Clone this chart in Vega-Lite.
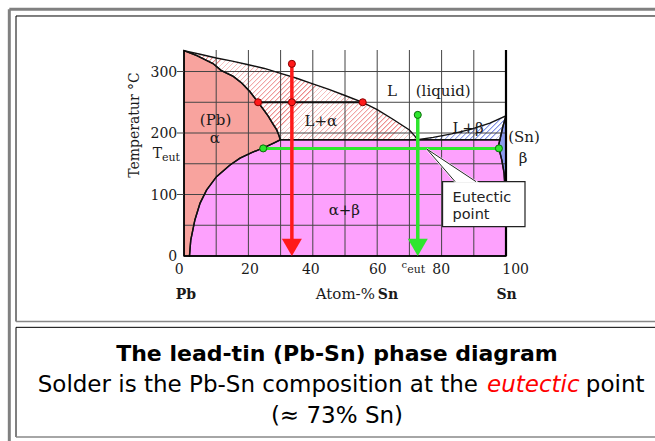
{
"$schema":"https://vega.github.io/schema/vega-lite/v6.json",
"width":322,"height":206,
"autosize":{"type":"none"},
"padding":{"left":184,"top":50,"right":149,"bottom":185},
"background":"#ffffff",
"config":{"view":{"stroke":null},"axis":{"disable":true},"legend":{"disable":true}},
"data":{"values":[{"one":1}]},
"datasets":{
"poly":[
{"r":"a","i":0,"x":0,"y":0},{"r":"a","i":1,"x":0,"y":334},{"r":"a","i":2,"x":4,"y":326},{"r":"a","i":3,"x":9,"y":313},{"r":"a","i":4,"x":11.5,"y":302},{"r":"a","i":5,"x":15.3,"y":292},{"r":"a","i":6,"x":18,"y":281},{"r":"a","i":7,"x":20.5,"y":267},{"r":"a","i":8,"x":23,"y":250},{"r":"a","i":9,"x":24.7,"y":238},{"r":"a","i":10,"x":26.2,"y":227},{"r":"a","i":11,"x":27.6,"y":215},{"r":"a","i":12,"x":28.8,"y":205},{"r":"a","i":13,"x":29.5,"y":196},{"r":"a","i":14,"x":29.9,"y":189},{"r":"a","i":15,"x":28,"y":184},{"r":"a","i":16,"x":26,"y":179},{"r":"a","i":17,"x":24.6,"y":176},{"r":"a","i":18,"x":21,"y":168},{"r":"a","i":19,"x":17.4,"y":159},{"r":"a","i":20,"x":14.3,"y":148},{"r":"a","i":21,"x":10.1,"y":129},{"r":"a","i":22,"x":7,"y":107},{"r":"a","i":23,"x":5,"y":86},{"r":"a","i":24,"x":3.4,"y":59},{"r":"a","i":25,"x":2.1,"y":26},{"r":"a","i":26,"x":1.7,"y":0},
{"r":"ab","i":0,"x":1.7,"y":0},{"r":"ab","i":1,"x":2.1,"y":26},{"r":"ab","i":2,"x":3.4,"y":59},{"r":"ab","i":3,"x":5,"y":86},{"r":"ab","i":4,"x":7,"y":107},{"r":"ab","i":5,"x":10.1,"y":129},{"r":"ab","i":6,"x":14.3,"y":148},{"r":"ab","i":7,"x":17.4,"y":159},{"r":"ab","i":8,"x":21,"y":168},{"r":"ab","i":9,"x":24.6,"y":176},{"r":"ab","i":10,"x":26,"y":179},{"r":"ab","i":11,"x":28,"y":184},{"r":"ab","i":12,"x":29.9,"y":189},{"r":"ab","i":13,"x":98.1,"y":189},{"r":"ab","i":14,"x":97.7,"y":180},{"r":"ab","i":15,"x":97.8,"y":175},{"r":"ab","i":16,"x":98.7,"y":156},{"r":"ab","i":17,"x":99.4,"y":135},{"r":"ab","i":18,"x":99.8,"y":102},{"r":"ab","i":19,"x":100,"y":60},{"r":"ab","i":20,"x":100,"y":0},
{"r":"La","i":0,"x":0,"y":334},{"r":"La","i":1,"x":5,"y":328},{"r":"La","i":2,"x":10,"y":322},{"r":"La","i":3,"x":15,"y":317},{"r":"La","i":4,"x":20,"y":311},{"r":"La","i":5,"x":25,"y":305},{"r":"La","i":6,"x":30,"y":297},{"r":"La","i":7,"x":35,"y":289},{"r":"La","i":8,"x":40,"y":280},{"r":"La","i":9,"x":45,"y":271},{"r":"La","i":10,"x":50,"y":261},{"r":"La","i":11,"x":55.5,"y":250},{"r":"La","i":12,"x":60,"y":238},{"r":"La","i":13,"x":65,"y":222},{"r":"La","i":14,"x":70,"y":205},{"r":"La","i":15,"x":71.7,"y":195},{"r":"La","i":16,"x":72.5,"y":189},{"r":"La","i":17,"x":29.9,"y":189},{"r":"La","i":18,"x":29.5,"y":196},{"r":"La","i":19,"x":28.8,"y":205},{"r":"La","i":20,"x":27.6,"y":215},{"r":"La","i":21,"x":26.2,"y":227},{"r":"La","i":22,"x":24.7,"y":238},{"r":"La","i":23,"x":23,"y":250},{"r":"La","i":24,"x":20.5,"y":267},{"r":"La","i":25,"x":18,"y":281},{"r":"La","i":26,"x":15.3,"y":292},{"r":"La","i":27,"x":11.5,"y":302},{"r":"La","i":28,"x":9,"y":313},{"r":"La","i":29,"x":4,"y":326},
{"r":"Lb","i":0,"x":72.5,"y":189},{"r":"Lb","i":1,"x":77.4,"y":193},{"r":"Lb","i":2,"x":83.1,"y":198.5},{"r":"Lb","i":3,"x":89,"y":206},{"r":"Lb","i":4,"x":95,"y":216},{"r":"Lb","i":5,"x":100,"y":228},{"r":"Lb","i":6,"x":99,"y":210},{"r":"Lb","i":7,"x":98.1,"y":189},
{"r":"b","i":0,"x":100,"y":228},{"r":"b","i":1,"x":99,"y":210},{"r":"b","i":2,"x":98.1,"y":189},{"r":"b","i":3,"x":97.7,"y":180},{"r":"b","i":4,"x":97.8,"y":175},{"r":"b","i":5,"x":98.7,"y":156},{"r":"b","i":6,"x":99.4,"y":135},{"r":"b","i":7,"x":99.8,"y":102},{"r":"b","i":8,"x":100,"y":60}
],
"vg":[{"gx":10},{"gx":20},{"gx":30},{"gx":40},{"gx":50},{"gx":60},{"gx":70},{"gx":80},{"gx":90}],
"hg":[{"gy":50},{"gy":100},{"gy":150},{"gy":200},{"gy":250},{"gy":300}],
"yl":[{"v":0,"t":"0"},{"v":100,"t":"100"},{"v":200,"t":"200"},{"v":300,"t":"300"}],
"xl":[{"t":"0","x":-1.5},{"t":"20","x":20.5},{"t":"40","x":39.4},{"t":"60","x":60.2},{"t":"80","x":79.9},{"t":"100","x":103}],
"dots":[{"x":33.5,"y":312.5,"k":"red"},{"x":23,"y":250,"k":"red"},{"x":33.5,"y":250,"k":"red"},{"x":55.5,"y":250,"k":"red"},{"x":72.6,"y":229.5,"k":"green"},{"x":24.6,"y":175,"k":"green"},{"x":97.8,"y":175,"k":"green"}],
"tips":[{"x":33.5,"y":14,"k":"red"},{"x":72.6,"y":14,"k":"green"}],
"wedge":[{"i":0,"x":84.2,"y":120.9},{"i":1,"x":75.4,"y":174},{"i":2,"x":90.7,"y":120.9}],
"rl":[{"t":"L","x":64.6,"y":260.7},{"t":"(liquid)","x":80.5,"y":260.7},{"t":"L+α","x":42.5,"y":211},{"t":"(Pb)","x":9.8,"y":213},{"t":"α","x":9.6,"y":183},{"t":"L+β","x":88.2,"y":200},{"t":"(Sn)","x":105.6,"y":185},{"t":"β","x":105.3,"y":151},{"t":"α+β","x":49.8,"y":67}]
},
"layer":[
{"mark":{"type":"rule","color":"#808080","strokeWidth":3},"encoding":{"x":{"datum":-54.25,"type":"quantitative","scale":{"domain":[0,100],"nice":false,"zero":false}},"x2":{"datum":160},"y":{"datum":401.2,"type":"quantitative","scale":{"domain":[0,335],"nice":false,"zero":false}}}},
{"mark":{"type":"rule","color":"#808080","strokeWidth":3},"encoding":{"x":{"datum":-54.25,"type":"quantitative"},"y":{"datum":401.2,"type":"quantitative"},"y2":{"datum":-331.8}}},
{"mark":{"type":"rule","color":"#000000","strokeWidth":1},"encoding":{"x":{"datum":-52.17,"type":"quantitative"},"x2":{"datum":160},"y":{"datum":390.3,"type":"quantitative"}}},
{"mark":{"type":"rule","color":"#000000","strokeWidth":1},"encoding":{"x":{"datum":-52.17,"type":"quantitative"},"y":{"datum":390.3,"type":"quantitative"},"y2":{"datum":-106.5}}},
{"mark":{"type":"rule","color":"#888888","strokeWidth":1.5},"encoding":{"x":{"datum":-52.17,"type":"quantitative"},"x2":{"datum":160},"y":{"datum":-106.5,"type":"quantitative"}}},
{"mark":{"type":"rule","color":"#000000","strokeWidth":1},"encoding":{"x":{"datum":-52.17,"type":"quantitative"},"x2":{"datum":160},"y":{"datum":-116,"type":"quantitative"}}},
{"mark":{"type":"rule","color":"#000000","strokeWidth":1},"encoding":{"x":{"datum":-52.17,"type":"quantitative"},"y":{"datum":-116,"type":"quantitative"},"y2":{"datum":-294.4}}},
{"mark":{"type":"rule","color":"#888888","strokeWidth":1.5},"encoding":{"x":{"datum":-52.17,"type":"quantitative"},"x2":{"datum":160},"y":{"datum":-294.4,"type":"quantitative"}}},

{"data":{"name":"poly"},"transform":[{"filter":"datum.r=='a'"}],"mark":{"type":"line","interpolate":"linear-closed","fill":"#f8a39e","strokeWidth":0},"encoding":{"x":{"field":"x","type":"quantitative"},"y":{"field":"y","type":"quantitative"},"order":{"field":"i","type":"quantitative"}}},
{"data":{"name":"poly"},"transform":[{"filter":"datum.r=='ab'"}],"mark":{"type":"line","interpolate":"linear-closed","fill":"#fda1fd","strokeWidth":0},"encoding":{"x":{"field":"x","type":"quantitative"},"y":{"field":"y","type":"quantitative"},"order":{"field":"i","type":"quantitative"}}},
{"data":{"name":"poly"},"transform":[{"filter":"datum.r=='La'"}],"mark":{"type":"line","interpolate":"linear-closed","strokeWidth":0,"fill":{"gradient":"linear","x1":0,"y1":0,"x2":1.206,"y2":0.461,"stops":[
{"offset":0,"color":"#fff"},{"offset":0,"color":"#ec8585"},{"offset":0.006,"color":"#fff"},
{"offset":0.015625,"color":"#fff"},{"offset":0.015625,"color":"#ec8585"},{"offset":0.021625,"color":"#fff"},
{"offset":0.03125,"color":"#fff"},{"offset":0.03125,"color":"#ec8585"},{"offset":0.03725,"color":"#fff"},
{"offset":0.046875,"color":"#fff"},{"offset":0.046875,"color":"#ec8585"},{"offset":0.052875,"color":"#fff"},
{"offset":0.0625,"color":"#fff"},{"offset":0.0625,"color":"#ec8585"},{"offset":0.0685,"color":"#fff"},
{"offset":0.078125,"color":"#fff"},{"offset":0.078125,"color":"#ec8585"},{"offset":0.084125,"color":"#fff"},
{"offset":0.09375,"color":"#fff"},{"offset":0.09375,"color":"#ec8585"},{"offset":0.09975,"color":"#fff"},
{"offset":0.109375,"color":"#fff"},{"offset":0.109375,"color":"#ec8585"},{"offset":0.115375,"color":"#fff"},
{"offset":0.125,"color":"#fff"},{"offset":0.125,"color":"#ec8585"},{"offset":0.131,"color":"#fff"},
{"offset":0.140625,"color":"#fff"},{"offset":0.140625,"color":"#ec8585"},{"offset":0.146625,"color":"#fff"},
{"offset":0.15625,"color":"#fff"},{"offset":0.15625,"color":"#ec8585"},{"offset":0.16225,"color":"#fff"},
{"offset":0.171875,"color":"#fff"},{"offset":0.171875,"color":"#ec8585"},{"offset":0.177875,"color":"#fff"},
{"offset":0.1875,"color":"#fff"},{"offset":0.1875,"color":"#ec8585"},{"offset":0.1935,"color":"#fff"},
{"offset":0.203125,"color":"#fff"},{"offset":0.203125,"color":"#ec8585"},{"offset":0.209125,"color":"#fff"},
{"offset":0.21875,"color":"#fff"},{"offset":0.21875,"color":"#ec8585"},{"offset":0.22475,"color":"#fff"},
{"offset":0.234375,"color":"#fff"},{"offset":0.234375,"color":"#ec8585"},{"offset":0.240375,"color":"#fff"},
{"offset":0.25,"color":"#fff"},{"offset":0.25,"color":"#ec8585"},{"offset":0.256,"color":"#fff"},
{"offset":0.265625,"color":"#fff"},{"offset":0.265625,"color":"#ec8585"},{"offset":0.271625,"color":"#fff"},
{"offset":0.28125,"color":"#fff"},{"offset":0.28125,"color":"#ec8585"},{"offset":0.28725,"color":"#fff"},
{"offset":0.296875,"color":"#fff"},{"offset":0.296875,"color":"#ec8585"},{"offset":0.302875,"color":"#fff"},
{"offset":0.3125,"color":"#fff"},{"offset":0.3125,"color":"#ec8585"},{"offset":0.3185,"color":"#fff"},
{"offset":0.328125,"color":"#fff"},{"offset":0.328125,"color":"#ec8585"},{"offset":0.334125,"color":"#fff"},
{"offset":0.34375,"color":"#fff"},{"offset":0.34375,"color":"#ec8585"},{"offset":0.34975,"color":"#fff"},
{"offset":0.359375,"color":"#fff"},{"offset":0.359375,"color":"#ec8585"},{"offset":0.365375,"color":"#fff"},
{"offset":0.375,"color":"#fff"},{"offset":0.375,"color":"#ec8585"},{"offset":0.381,"color":"#fff"},
{"offset":0.390625,"color":"#fff"},{"offset":0.390625,"color":"#ec8585"},{"offset":0.396625,"color":"#fff"},
{"offset":0.40625,"color":"#fff"},{"offset":0.40625,"color":"#ec8585"},{"offset":0.41225,"color":"#fff"},
{"offset":0.421875,"color":"#fff"},{"offset":0.421875,"color":"#ec8585"},{"offset":0.427875,"color":"#fff"},
{"offset":0.4375,"color":"#fff"},{"offset":0.4375,"color":"#ec8585"},{"offset":0.4435,"color":"#fff"},
{"offset":0.453125,"color":"#fff"},{"offset":0.453125,"color":"#ec8585"},{"offset":0.459125,"color":"#fff"},
{"offset":0.46875,"color":"#fff"},{"offset":0.46875,"color":"#ec8585"},{"offset":0.47475,"color":"#fff"},
{"offset":0.484375,"color":"#fff"},{"offset":0.484375,"color":"#ec8585"},{"offset":0.490375,"color":"#fff"},
{"offset":0.5,"color":"#fff"},{"offset":0.5,"color":"#ec8585"},{"offset":0.506,"color":"#fff"},
{"offset":0.515625,"color":"#fff"},{"offset":0.515625,"color":"#ec8585"},{"offset":0.521625,"color":"#fff"},
{"offset":0.53125,"color":"#fff"},{"offset":0.53125,"color":"#ec8585"},{"offset":0.53725,"color":"#fff"},
{"offset":0.546875,"color":"#fff"},{"offset":0.546875,"color":"#ec8585"},{"offset":0.552875,"color":"#fff"},
{"offset":0.5625,"color":"#fff"},{"offset":0.5625,"color":"#ec8585"},{"offset":0.5685,"color":"#fff"},
{"offset":0.578125,"color":"#fff"},{"offset":0.578125,"color":"#ec8585"},{"offset":0.584125,"color":"#fff"},
{"offset":0.59375,"color":"#fff"},{"offset":0.59375,"color":"#ec8585"},{"offset":0.59975,"color":"#fff"},
{"offset":0.609375,"color":"#fff"},{"offset":0.609375,"color":"#ec8585"},{"offset":0.615375,"color":"#fff"},
{"offset":0.625,"color":"#fff"},{"offset":0.625,"color":"#ec8585"},{"offset":0.631,"color":"#fff"},
{"offset":0.640625,"color":"#fff"},{"offset":0.640625,"color":"#ec8585"},{"offset":0.646625,"color":"#fff"},
{"offset":0.65625,"color":"#fff"},{"offset":0.65625,"color":"#ec8585"},{"offset":0.66225,"color":"#fff"},
{"offset":0.671875,"color":"#fff"},{"offset":0.671875,"color":"#ec8585"},{"offset":0.677875,"color":"#fff"},
{"offset":0.6875,"color":"#fff"},{"offset":0.6875,"color":"#ec8585"},{"offset":0.6935,"color":"#fff"},
{"offset":0.703125,"color":"#fff"},{"offset":0.703125,"color":"#ec8585"},{"offset":0.709125,"color":"#fff"},
{"offset":0.71875,"color":"#fff"},{"offset":0.71875,"color":"#ec8585"},{"offset":0.72475,"color":"#fff"},
{"offset":0.734375,"color":"#fff"},{"offset":0.734375,"color":"#ec8585"},{"offset":0.740375,"color":"#fff"},
{"offset":0.75,"color":"#fff"},{"offset":0.75,"color":"#ec8585"},{"offset":0.756,"color":"#fff"},
{"offset":0.765625,"color":"#fff"},{"offset":0.765625,"color":"#ec8585"},{"offset":0.771625,"color":"#fff"},
{"offset":0.78125,"color":"#fff"},{"offset":0.78125,"color":"#ec8585"},{"offset":0.78725,"color":"#fff"},
{"offset":0.796875,"color":"#fff"},{"offset":0.796875,"color":"#ec8585"},{"offset":0.802875,"color":"#fff"},
{"offset":0.8125,"color":"#fff"},{"offset":0.8125,"color":"#ec8585"},{"offset":0.8185,"color":"#fff"},
{"offset":0.828125,"color":"#fff"},{"offset":0.828125,"color":"#ec8585"},{"offset":0.834125,"color":"#fff"},
{"offset":0.84375,"color":"#fff"},{"offset":0.84375,"color":"#ec8585"},{"offset":0.84975,"color":"#fff"},
{"offset":0.859375,"color":"#fff"},{"offset":0.859375,"color":"#ec8585"},{"offset":0.865375,"color":"#fff"},
{"offset":0.875,"color":"#fff"},{"offset":0.875,"color":"#ec8585"},{"offset":0.881,"color":"#fff"},
{"offset":0.890625,"color":"#fff"},{"offset":0.890625,"color":"#ec8585"},{"offset":0.896625,"color":"#fff"},
{"offset":0.90625,"color":"#fff"},{"offset":0.90625,"color":"#ec8585"},{"offset":0.91225,"color":"#fff"},
{"offset":0.921875,"color":"#fff"},{"offset":0.921875,"color":"#ec8585"},{"offset":0.927875,"color":"#fff"},
{"offset":0.9375,"color":"#fff"},{"offset":0.9375,"color":"#ec8585"},{"offset":0.9435,"color":"#fff"},
{"offset":0.953125,"color":"#fff"},{"offset":0.953125,"color":"#ec8585"},{"offset":0.959125,"color":"#fff"},
{"offset":0.96875,"color":"#fff"},{"offset":0.96875,"color":"#ec8585"},{"offset":0.97475,"color":"#fff"},
{"offset":0.984375,"color":"#fff"},{"offset":0.984375,"color":"#ec8585"},{"offset":0.990375,"color":"#fff"},
{"offset":1,"color":"#fff"}
]}},"encoding":{"x":{"field":"x","type":"quantitative"},"y":{"field":"y","type":"quantitative"},"order":{"field":"i","type":"quantitative"}}},
{"data":{"name":"poly"},"transform":[{"filter":"datum.r=='Lb'"}],"mark":{"type":"line","interpolate":"linear-closed","strokeWidth":0,"fill":{"gradient":"linear","x1":0,"y1":0,"x2":3.393,"y2":0.92,"stops":[
{"offset":0,"color":"#fff"},{"offset":0,"color":"#7f8fe6"},{"offset":0.006,"color":"#fff"},
{"offset":0.015625,"color":"#fff"},{"offset":0.015625,"color":"#7f8fe6"},{"offset":0.021625,"color":"#fff"},
{"offset":0.03125,"color":"#fff"},{"offset":0.03125,"color":"#7f8fe6"},{"offset":0.03725,"color":"#fff"},
{"offset":0.046875,"color":"#fff"},{"offset":0.046875,"color":"#7f8fe6"},{"offset":0.052875,"color":"#fff"},
{"offset":0.0625,"color":"#fff"},{"offset":0.0625,"color":"#7f8fe6"},{"offset":0.0685,"color":"#fff"},
{"offset":0.078125,"color":"#fff"},{"offset":0.078125,"color":"#7f8fe6"},{"offset":0.084125,"color":"#fff"},
{"offset":0.09375,"color":"#fff"},{"offset":0.09375,"color":"#7f8fe6"},{"offset":0.09975,"color":"#fff"},
{"offset":0.109375,"color":"#fff"},{"offset":0.109375,"color":"#7f8fe6"},{"offset":0.115375,"color":"#fff"},
{"offset":0.125,"color":"#fff"},{"offset":0.125,"color":"#7f8fe6"},{"offset":0.131,"color":"#fff"},
{"offset":0.140625,"color":"#fff"},{"offset":0.140625,"color":"#7f8fe6"},{"offset":0.146625,"color":"#fff"},
{"offset":0.15625,"color":"#fff"},{"offset":0.15625,"color":"#7f8fe6"},{"offset":0.16225,"color":"#fff"},
{"offset":0.171875,"color":"#fff"},{"offset":0.171875,"color":"#7f8fe6"},{"offset":0.177875,"color":"#fff"},
{"offset":0.1875,"color":"#fff"},{"offset":0.1875,"color":"#7f8fe6"},{"offset":0.1935,"color":"#fff"},
{"offset":0.203125,"color":"#fff"},{"offset":0.203125,"color":"#7f8fe6"},{"offset":0.209125,"color":"#fff"},
{"offset":0.21875,"color":"#fff"},{"offset":0.21875,"color":"#7f8fe6"},{"offset":0.22475,"color":"#fff"},
{"offset":0.234375,"color":"#fff"},{"offset":0.234375,"color":"#7f8fe6"},{"offset":0.240375,"color":"#fff"},
{"offset":0.25,"color":"#fff"},{"offset":0.25,"color":"#7f8fe6"},{"offset":0.256,"color":"#fff"},
{"offset":0.265625,"color":"#fff"},{"offset":0.265625,"color":"#7f8fe6"},{"offset":0.271625,"color":"#fff"},
{"offset":0.28125,"color":"#fff"},{"offset":0.28125,"color":"#7f8fe6"},{"offset":0.28725,"color":"#fff"},
{"offset":0.296875,"color":"#fff"},{"offset":0.296875,"color":"#7f8fe6"},{"offset":0.302875,"color":"#fff"},
{"offset":0.3125,"color":"#fff"},{"offset":0.3125,"color":"#7f8fe6"},{"offset":0.3185,"color":"#fff"},
{"offset":0.328125,"color":"#fff"},{"offset":0.328125,"color":"#7f8fe6"},{"offset":0.334125,"color":"#fff"},
{"offset":0.34375,"color":"#fff"},{"offset":0.34375,"color":"#7f8fe6"},{"offset":0.34975,"color":"#fff"},
{"offset":0.359375,"color":"#fff"},{"offset":0.359375,"color":"#7f8fe6"},{"offset":0.365375,"color":"#fff"},
{"offset":1,"color":"#fff"}
]}},"encoding":{"x":{"field":"x","type":"quantitative"},"y":{"field":"y","type":"quantitative"},"order":{"field":"i","type":"quantitative"}}},
{"data":{"name":"poly"},"transform":[{"filter":"datum.r=='b'"}],"mark":{"type":"line","interpolate":"linear-closed","fill":"#8a99ee","strokeWidth":0},"encoding":{"x":{"field":"x","type":"quantitative"},"y":{"field":"y","type":"quantitative"},"order":{"field":"i","type":"quantitative"}}},

{"data":{"name":"vg"},"mark":{"type":"rule","color":"#454545","strokeWidth":1},"encoding":{"x":{"field":"gx","type":"quantitative"},"y":{"datum":0,"type":"quantitative"},"y2":{"datum":335}}},
{"data":{"name":"hg"},"mark":{"type":"rule","color":"#454545","strokeWidth":1},"encoding":{"y":{"field":"gy","type":"quantitative"},"x":{"datum":0,"type":"quantitative"},"x2":{"datum":100}}},

{"data":{"name":"poly"},"mark":{"type":"line","interpolate":"linear-closed","color":"#111111","strokeWidth":1.4},"encoding":{"x":{"field":"x","type":"quantitative"},"y":{"field":"y","type":"quantitative"},"detail":{"field":"r","type":"nominal"},"order":{"field":"i","type":"quantitative"}}},

{"mark":{"type":"rule","color":"#000000","strokeWidth":1.5},"encoding":{"x":{"datum":0,"type":"quantitative"},"y":{"datum":0,"type":"quantitative"},"y2":{"datum":335}}},
{"mark":{"type":"rule","color":"#000000","strokeWidth":1.5},"encoding":{"x":{"datum":0,"type":"quantitative"},"x2":{"datum":100},"y":{"datum":0,"type":"quantitative"}}},
{"mark":{"type":"rule","color":"#000000","strokeWidth":2.2},"encoding":{"x":{"datum":100,"type":"quantitative"},"y":{"datum":0,"type":"quantitative"},"y2":{"datum":335}}},
{"data":{"name":"yl"},"transform":[{"filter":"datum.v>0"}],"mark":{"type":"rule","color":"#454545","strokeWidth":1},"encoding":{"x":{"datum":-2.2,"type":"quantitative"},"x2":{"datum":0},"y":{"field":"v","type":"quantitative"}}},

{"mark":{"type":"rule","color":"#111111","strokeWidth":2},"encoding":{"x":{"datum":23,"type":"quantitative"},"x2":{"datum":55.5},"y":{"datum":250,"type":"quantitative"}}},
{"mark":{"type":"rule","color":"#2ee62e","strokeWidth":3},"encoding":{"x":{"datum":24.6,"type":"quantitative"},"x2":{"datum":97.8},"y":{"datum":175,"type":"quantitative"}}},
{"mark":{"type":"rule","color":"#ff1a1a","strokeWidth":3.5},"encoding":{"x":{"datum":33.5,"type":"quantitative"},"y":{"datum":312.5,"type":"quantitative"},"y2":{"datum":20}}},
{"mark":{"type":"rule","color":"#2ee62e","strokeWidth":3.5},"encoding":{"x":{"datum":72.6,"type":"quantitative"},"y":{"datum":229.5,"type":"quantitative"},"y2":{"datum":20}}},
{"data":{"name":"tips"},"mark":{"type":"point","shape":"triangle-down","filled":true,"size":400,"opacity":1},"encoding":{"x":{"field":"x","type":"quantitative"},"y":{"field":"y","type":"quantitative"},"fill":{"field":"k","type":"nominal","scale":{"domain":["red","green"],"range":["#ff1a1a","#2ee62e"]},"legend":null}}},
{"data":{"name":"dots"},"mark":{"type":"point","shape":"circle","filled":true,"size":50,"opacity":1,"strokeWidth":1},"encoding":{"x":{"field":"x","type":"quantitative"},"y":{"field":"y","type":"quantitative"},"fill":{"field":"k","type":"nominal","legend":null},"stroke":{"field":"k","type":"nominal","scale":{"domain":["red","green"],"range":["#8b0000","#0a6a0a"]},"legend":null}}},

{"mark":{"type":"rect","fill":"#ffffff","stroke":"#222222","strokeWidth":1.2},"encoding":{"x":{"datum":80.3,"type":"quantitative"},"x2":{"datum":105.9},"y":{"datum":120.9,"type":"quantitative"},"y2":{"datum":47.7}}},
{"data":{"name":"wedge"},"mark":{"type":"line","interpolate":"linear-closed","fill":"#ffffff","color":"#ffffff","strokeWidth":2},"encoding":{"x":{"field":"x","type":"quantitative"},"y":{"field":"y","type":"quantitative"},"order":{"field":"i","type":"quantitative"}}},
{"data":{"name":"wedge"},"mark":{"type":"line","color":"#222222","strokeWidth":1},"encoding":{"x":{"field":"x","type":"quantitative"},"y":{"field":"y","type":"quantitative"},"order":{"field":"i","type":"quantitative"}}},
{"mark":{"type":"text","text":"Eutectic","font":"DejaVu Sans","fontSize":14.5,"align":"left","baseline":"alphabetic","color":"#222222"},"encoding":{"x":{"datum":83.4,"type":"quantitative"},"y":{"datum":88.4,"type":"quantitative"}}},
{"mark":{"type":"text","text":"point","font":"DejaVu Sans","fontSize":14.5,"align":"left","baseline":"alphabetic","color":"#222222"},"encoding":{"x":{"datum":83.4,"type":"quantitative"},"y":{"datum":59.7,"type":"quantitative"}}},

{"data":{"name":"rl"},"mark":{"type":"text","font":"DejaVu Serif","fontSize":15,"align":"center","baseline":"alphabetic","color":"#1a1a1a"},"encoding":{"x":{"field":"x","type":"quantitative"},"y":{"field":"y","type":"quantitative"},"text":{"field":"t"}}},
{"data":{"name":"yl"},"mark":{"type":"text","font":"DejaVu Serif","fontSize":14,"align":"right","baseline":"middle","dy":1,"color":"#1a1a1a"},"encoding":{"x":{"datum":-2.1,"type":"quantitative"},"y":{"field":"v","type":"quantitative"},"text":{"field":"t"}}},
{"data":{"name":"xl"},"mark":{"type":"text","font":"DejaVu Serif","fontSize":14,"align":"center","baseline":"alphabetic","color":"#1a1a1a"},"encoding":{"x":{"field":"x","type":"quantitative"},"y":{"datum":-29.3,"type":"quantitative"},"text":{"field":"t"}}},
{"mark":{"type":"text","text":"T","font":"DejaVu Serif","fontSize":14,"align":"right","baseline":"alphabetic","color":"#1a1a1a"},"encoding":{"x":{"datum":-6.83,"type":"quantitative"},"y":{"datum":159,"type":"quantitative"}}},
{"mark":{"type":"text","text":"eut","font":"DejaVu Serif","fontSize":11,"align":"left","baseline":"alphabetic","color":"#1a1a1a"},"encoding":{"x":{"datum":-6.83,"type":"quantitative"},"y":{"datum":155,"type":"quantitative"}}},
{"mark":{"type":"text","text":"c","font":"DejaVu Serif","fontSize":10,"align":"center","baseline":"alphabetic","color":"#1a1a1a"},"encoding":{"x":{"datum":68.4,"type":"quantitative"},"y":{"datum":-19.5,"type":"quantitative"}}},
{"mark":{"type":"text","text":"eut","font":"DejaVu Serif","fontSize":11,"align":"left","baseline":"alphabetic","color":"#1a1a1a"},"encoding":{"x":{"datum":69.3,"type":"quantitative"},"y":{"datum":-27.2,"type":"quantitative"}}},
{"mark":{"type":"text","text":"Temperatur °C","angle":270,"font":"DejaVu Serif","fontSize":14,"align":"center","baseline":"middle","color":"#1a1a1a"},"encoding":{"x":{"datum":-15.2,"type":"quantitative"},"y":{"datum":213,"type":"quantitative"}}},
{"mark":{"type":"text","text":"Pb","font":"DejaVu Serif","fontSize":14,"fontWeight":"bold","align":"center","baseline":"alphabetic","color":"#1a1a1a"},"encoding":{"x":{"datum":0.6,"type":"quantitative"},"y":{"datum":-70.4,"type":"quantitative"}}},
{"mark":{"type":"text","text":"Atom-%","font":"DejaVu Serif","fontSize":15,"align":"right","baseline":"alphabetic","color":"#1a1a1a"},"encoding":{"x":{"datum":59.3,"type":"quantitative"},"y":{"datum":-70.4,"type":"quantitative"}}},
{"mark":{"type":"text","text":"Sn","font":"DejaVu Serif","fontSize":14,"fontWeight":"bold","align":"left","baseline":"alphabetic","color":"#1a1a1a"},"encoding":{"x":{"datum":60.2,"type":"quantitative"},"y":{"datum":-70.4,"type":"quantitative"}}},
{"mark":{"type":"text","text":"Sn","font":"DejaVu Serif","fontSize":14,"fontWeight":"bold","align":"center","baseline":"alphabetic","color":"#1a1a1a"},"encoding":{"x":{"datum":100.2,"type":"quantitative"},"y":{"datum":-70.4,"type":"quantitative"}}},

{"mark":{"type":"text","text":"The lead-tin (Pb-Sn) phase diagram","font":"DejaVu Sans","fontSize":22,"fontWeight":"bold","align":"center","baseline":"alphabetic","color":"#000000"},"encoding":{"x":{"datum":47.5,"type":"quantitative"},"y":{"datum":-170.8,"type":"quantitative"}}},
{"mark":{"type":"text","text":"Solder is the Pb-Sn composition at the","font":"DejaVu Sans","fontSize":23,"align":"right","baseline":"alphabetic","color":"#000000"},"encoding":{"x":{"datum":91.3,"type":"quantitative"},"y":{"datum":-221.7,"type":"quantitative"}}},
{"mark":{"type":"text","text":"eutectic","font":"DejaVu Sans","fontSize":23,"fontStyle":"italic","align":"left","baseline":"alphabetic","color":"#ff0000"},"encoding":{"x":{"datum":94.1,"type":"quantitative"},"y":{"datum":-221.7,"type":"quantitative"}}},
{"mark":{"type":"text","text":"point","font":"DejaVu Sans","fontSize":23,"align":"left","baseline":"alphabetic","color":"#000000"},"encoding":{"x":{"datum":124.8,"type":"quantitative"},"y":{"datum":-221.7,"type":"quantitative"}}},
{"mark":{"type":"text","text":"(≈ 73% Sn)","font":"DejaVu Sans","fontSize":23,"align":"center","baseline":"alphabetic","color":"#000000"},"encoding":{"x":{"datum":47.5,"type":"quantitative"},"y":{"datum":-271.6,"type":"quantitative"}}}
]
}
